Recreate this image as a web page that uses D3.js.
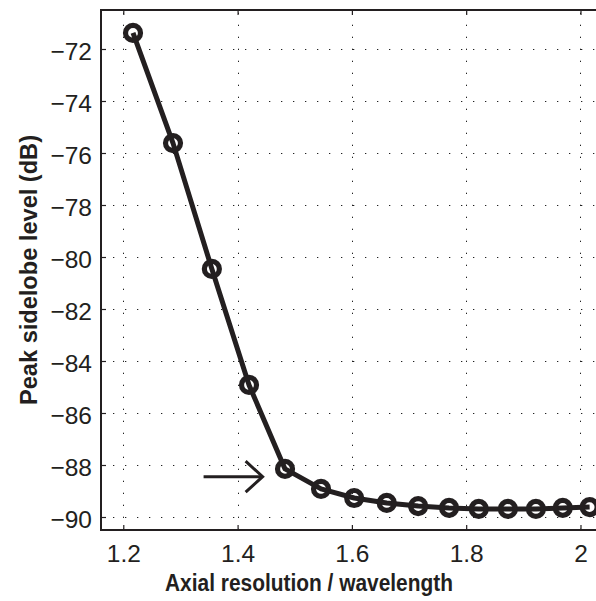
<!DOCTYPE html>
<html>
<head>
<meta charset="utf-8">
<script src="https://cdn.jsdelivr.net/npm/d3@7"></script>
<style>
  html, body { margin: 0; padding: 0; background: #fff; }
  svg { display: block; }
  text { font-family: "Liberation Sans", Arial, Helvetica, sans-serif; fill: #231f20; }
</style>
</head>
<body>
<div id="chart"></div>
<script>
// Peak sidelobe level versus axial resolution
const resolution = [1.217, 1.287, 1.355, 1.420, 1.483, 1.546, 1.604, 1.661, 1.716, 1.770, 1.822, 1.873, 1.922, 1.969, 2.016];
const sidelobeDb = [-71.38, -75.62, -80.46, -84.92, -88.15, -88.92, -89.27, -89.46, -89.58, -89.65, -89.69, -89.69, -89.69, -89.65, -89.62];
const xTicks = [1.2, 1.4, 1.6, 1.8, 2.0];
const yTicks = [-72, -74, -76, -78, -80, -82, -84, -86, -88, -90];
const xDomain = [1.161, 2.05];
const yDomain = [-90.5, -70.5];
// annotation arrow pointing at the knee of the curve: [x0, x1, y]
const arrowSpan = [1.3405, 1.4438, -88.45];

const W = 596, H = 601;
const m = { left: 101, top: 10, right: 0, bottom: 71 };
const ink = "#231f20";

const svg = d3.select("#chart").append("svg").attr("width", W).attr("height", H);

const x = d3.scaleLinear().domain(xDomain).range([m.left, m.left + (xDomain[1] - xDomain[0]) * 571.5]);
const y = d3.scaleLinear().domain(yDomain).range([H - m.bottom, m.top]);

const x0 = x.range()[0], x1 = x.range()[1];
const y0 = y.range()[0], y1 = y.range()[1];

svg.append("defs").append("clipPath").attr("id", "plotclip")
  .append("rect").attr("x", x0).attr("y", y1).attr("width", x1 - x0).attr("height", y0 - y1);

// dotted grid
const grid = svg.append("g").attr("stroke", "#222").attr("stroke-width", 1)
  .attr("stroke-dasharray", "1.3,10.7");
grid.selectAll("line.gx").data(xTicks).join("line")
  .attr("x1", d => Math.round(x(d)) + 0.5).attr("x2", d => Math.round(x(d)) + 0.5)
  .attr("y1", y0).attr("y2", y1);
grid.selectAll("line.gy").data(yTicks).join("line")
  .attr("x1", x0).attr("x2", x1)
  .attr("y1", d => Math.round(y(d)) + 0.5).attr("y2", d => Math.round(y(d)) + 0.5);

// axes with inward ticks
const axisStyle = g => {
  g.select(".domain").remove();
  g.attr("font-size", "24.5px").attr("font-family", null);
  g.selectAll(".tick line").attr("stroke", ink).attr("stroke-width", 1.2);
  g.selectAll(".tick text").attr("fill", ink);
};
const fmtY = d => "\u2212" + Math.abs(d);
const fmtX = d => d === 2 ? "2" : d3.format(".1f")(d);

svg.append("g").attr("transform", `translate(0,${y0})`)
  .call(d3.axisBottom(x).tickValues(xTicks).tickFormat(fmtX).tickSizeInner(-5).tickPadding(14.5))
  .call(axisStyle);
svg.append("g").attr("transform", `translate(0,${y1})`)
  .call(d3.axisTop(x).tickValues(xTicks).tickFormat("").tickSizeInner(-5))
  .call(axisStyle);
svg.append("g").attr("transform", `translate(${x0},0)`)
  .call(d3.axisLeft(y).tickValues(yTicks).tickFormat(fmtY).tickSizeInner(-5).tickPadding(9))
  .call(axisStyle)
  .call(g => g.selectAll(".tick text").attr("dy", "0.42em"));

// frame
svg.append("rect").attr("x", x0).attr("y", y1).attr("width", x1 - x0).attr("height", y0 - y1)
  .attr("fill", "none").attr("stroke", ink).attr("stroke-width", 2);

// data line and circle markers
const plot = svg.append("g").attr("clip-path", "url(#plotclip)");
const pts = resolution.map((r, i) => [r, sidelobeDb[i]]);
plot.append("path").datum(pts)
  .attr("d", d3.line().x(d => x(d[0])).y(d => y(d[1])))
  .attr("fill", "none").attr("stroke", ink).attr("stroke-width", 5).attr("stroke-linejoin", "round");
svg.append("g").selectAll("circle").data(pts).join("circle")
  .attr("cx", d => x(d[0])).attr("cy", d => y(d[1])).attr("r", 7.5)
  .attr("fill", "none").attr("stroke", ink).attr("stroke-width", 5.2);

// arrow annotation
const ax0 = x(arrowSpan[0]), ax1 = x(arrowSpan[1]), ay = y(arrowSpan[2]);
const arrow = svg.append("g").attr("stroke", ink).attr("stroke-width", 3).attr("fill", "none");
arrow.append("line").attr("x1", ax0).attr("x2", ax1 - 1).attr("y1", ay).attr("y2", ay);
arrow.append("path").attr("d", `M${ax1 - 17},${ay - 15.5} L${ax1},${ay} L${ax1 - 17},${ay + 15.5}`);

// axis titles
svg.append("text").attr("x", 309).attr("y", 591).attr("text-anchor", "middle")
  .attr("textLength", 288).attr("lengthAdjust", "spacingAndGlyphs")
  .style("font-size", "23px").style("font-weight", "bold").text("Axial resolution / wavelength");
svg.append("text").attr("transform", `translate(37,270) rotate(-90)`)
  .attr("text-anchor", "middle").attr("textLength", 270).attr("lengthAdjust", "spacingAndGlyphs")
  .style("font-size", "23px").style("font-weight", "bold")
  .text("Peak sidelobe level (dB)");
</script>
</body>
</html>
